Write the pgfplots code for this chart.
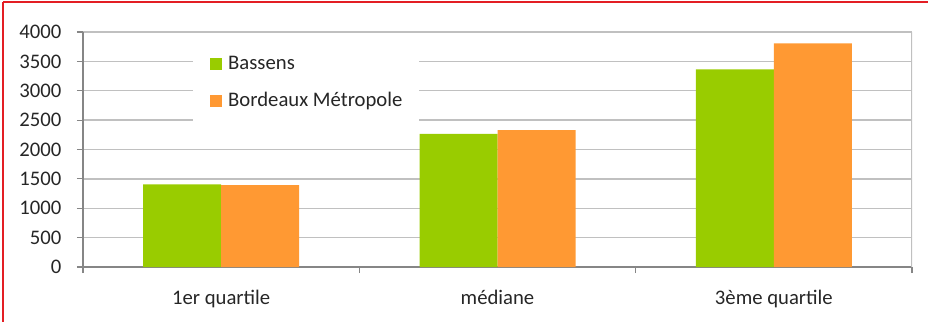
\documentclass[border=0pt]{standalone}
\usepackage{fontspec}
\setmainfont{Carlito}
\usepackage{pgfplots}
\pgfplotsset{compat=1.18}
\definecolor{bgreen}{HTML}{99CC00}
\definecolor{borange}{HTML}{FF9933}
\definecolor{gridgray}{HTML}{C0C0C0}
\definecolor{axgray}{HTML}{868686}
\definecolor{txt}{HTML}{262626}
\definecolor{bred}{HTML}{E31E24}
\begin{document}
\begin{tikzpicture}[x=1bp,y=1bp]
\path[use as bounding box] (0,-322) rectangle (928,0);
\draw[bred, line width=2.2bp] (3,-1.8) -- (928,-1.8);
\draw[bred, line width=1.2bp] (3,-1.5) -- (3,-322);
\begin{axis}[
  at={(83bp,-267bp)}, anchor=south west,
  scale only axis, width=829bp, height=235bp,
  ymin=0, ymax=4000, ytick={0,500,...,4000},
  xmin=0, xmax=3,
  xtick={0.5,1.5,2.5},
  xticklabels={1er quartile, médiane, 3ème quartile},
  minor xtick={0,1,2,3},
  axis x line*=bottom, axis y line*=left,
  axis line style={axgray, line width=1.6bp, -},
  tick align=outside,
  major tick length=6bp, minor tick length=6bp,
  tick style={axgray, line width=1.2bp},
  major x tick style={draw=none},
  ymajorgrids, grid style={gridgray, line width=1.4bp},
  /pgf/number format/assume math mode=true,
  /pgf/number format/1000 sep={},
  ticklabel style={font=\fontsize{20.7bp}{24bp}\selectfont, text=txt},
  yticklabel style={anchor=east, inner sep=0pt, xshift=-15.5bp},
  xticklabel style={anchor=base, inner sep=0pt, yshift=-31.5bp},
  ybar=0pt, bar width=78bp,
  legend image code/.code={\fill[#1] (0bp,-6bp) rectangle (12bp,6bp);},
  legend style={at={(rel axis cs:0.1327,0.966)}, anchor=north west,
    draw=none, fill=white, inner xsep=17bp, inner ysep=14bp,
    row sep=16.8bp,
    font=\fontsize{20.7bp}{24bp}\selectfont, text=txt,
    nodes={inner sep=0pt, text height=15bp, text depth=5bp},
    /tikz/every odd column/.append style={column sep=6bp}},
  legend cell align=left,
]
\addplot[fill=bgreen, draw=none] coordinates {(0.5,1405) (1.5,2265) (2.5,3365)};
\addplot[fill=borange, draw=none] coordinates {(0.5,1395) (1.5,2332) (2.5,3807)};
\legend{Bassens, Bordeaux Métropole}
\draw[gridgray, line width=1.4bp] (rel axis cs:1,0) -- (rel axis cs:1,1);
\end{axis}
\end{tikzpicture}
\end{document}
